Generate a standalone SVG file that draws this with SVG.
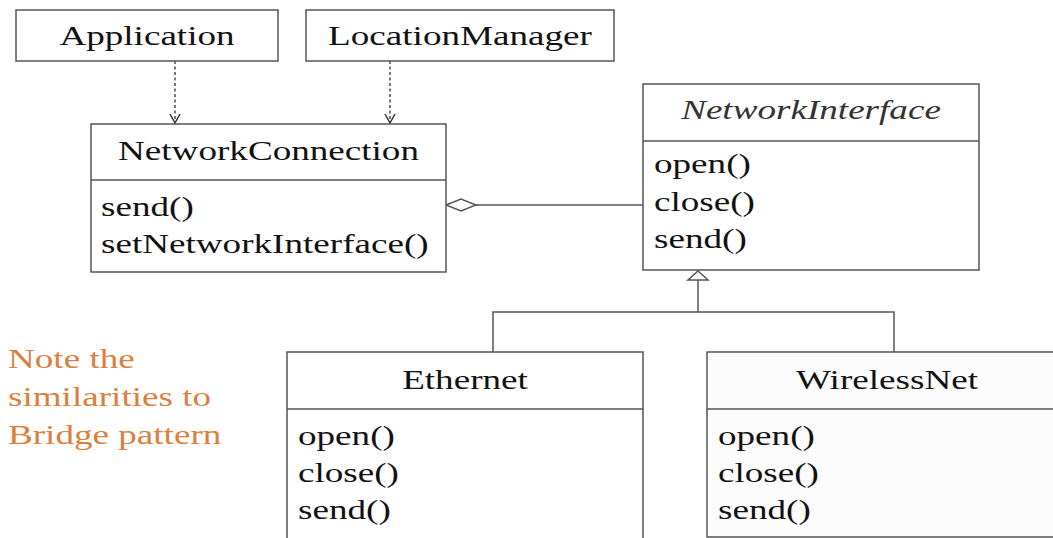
<svg xmlns="http://www.w3.org/2000/svg" width="1053" height="538" viewBox="0 0 1053 538">
<defs>
<style>
.box{fill:#fff;stroke:#555;stroke-width:1.5}
.ln{fill:none;stroke:#555;stroke-width:1.5}
.dash{fill:none;stroke:#333;stroke-width:1.3;stroke-dasharray:3 2.5}
.t{font-family:"Liberation Serif","Times New Roman",serif;font-size:27.5px;fill:#111}
.c{text-anchor:middle}
.i{font-style:italic;fill:#333}
.note{font-family:"Liberation Serif","Times New Roman",serif;font-size:27.5px;fill:#DB7F3E}
</style>
<marker id="open" markerWidth="12" markerHeight="12" refX="10" refY="6" orient="auto" markerUnits="userSpaceOnUse">
<path d="M1,1 L10,6 L1,11" fill="none" stroke="#333" stroke-width="1.5"/>
</marker>
</defs>
<rect width="1053" height="538" fill="#fff"/>

<g id="connectors">
<line class="dash" x1="175" y1="61" x2="175" y2="123" marker-end="url(#open)"/>
<line class="dash" x1="390" y1="61" x2="390" y2="123" marker-end="url(#open)"/>
<polygon points="446,205 461,199 476,205 461,211" fill="#fff" stroke="#555" stroke-width="1.5"/>
<line class="ln" x1="476" y1="205" x2="643" y2="205"/>
<polygon points="698,271 708,280 688,280" fill="#fff" stroke="#555" stroke-width="1.5"/>
<polyline class="ln" points="698,280 698,312"/>
<polyline class="ln" points="493,352 493,312 894,312 894,352"/>
</g>

<g id="Application">
<rect class="box" x="16" y="10" width="262" height="51"/>
<text class="t c" transform="translate(147,45) scale(1.35,1)">Application</text>
</g>

<g id="LocationManager">
<rect class="box" x="306" y="10" width="308" height="51"/>
<text class="t c" transform="translate(460,45) scale(1.35,1)">LocationManager</text>
</g>

<g id="NetworkConnection">
<rect class="box" x="91" y="124" width="355" height="148"/>
<line class="ln" x1="91" y1="180" x2="446" y2="180"/>
<text class="t c" transform="translate(268.5,160) scale(1.35,1)">NetworkConnection</text>
<text class="t" transform="translate(101,216) scale(1.35,1)">send()</text>
<text class="t" transform="translate(101,253) scale(1.35,1)">setNetworkInterface()</text>
</g>

<g id="NetworkInterface">
<rect class="box" x="643" y="84" width="336" height="186"/>
<line class="ln" x1="643" y1="141" x2="979" y2="141"/>
<text class="t c i" transform="translate(811,119) scale(1.35,1)">NetworkInterface</text>
<text class="t" transform="translate(654,173) scale(1.35,1)">open()</text>
<text class="t" transform="translate(654,211) scale(1.35,1)">close()</text>
<text class="t" transform="translate(654,248) scale(1.35,1)">send()</text>
</g>

<g id="Ethernet">
<rect class="box" x="287" y="352" width="356" height="200"/>
<line class="ln" x1="287" y1="409" x2="643" y2="409"/>
<text class="t c" transform="translate(465,389) scale(1.35,1)">Ethernet</text>
<text class="t" transform="translate(298,445) scale(1.35,1)">open()</text>
<text class="t" transform="translate(298,482) scale(1.35,1)">close()</text>
<text class="t" transform="translate(298,519) scale(1.35,1)">send()</text>
</g>

<g id="WirelessNet">
<rect class="box" x="707" y="352" width="360" height="185" style="fill:#fcfcfc"/>
<line class="ln" x1="707" y1="409" x2="1067" y2="409"/>
<text class="t c" transform="translate(887,389) scale(1.35,1)">WirelessNet</text>
<text class="t" transform="translate(718,445) scale(1.35,1)">open()</text>
<text class="t" transform="translate(718,482) scale(1.35,1)">close()</text>
<text class="t" transform="translate(718,519) scale(1.35,1)">send()</text>
</g>

<g id="note">
<text class="note" transform="translate(8,368) scale(1.35,1)">Note the</text>
<text class="note" transform="translate(8,406) scale(1.35,1)">similarities to</text>
<text class="note" transform="translate(8,444) scale(1.35,1)">Bridge pattern</text>
</g>
</svg>
